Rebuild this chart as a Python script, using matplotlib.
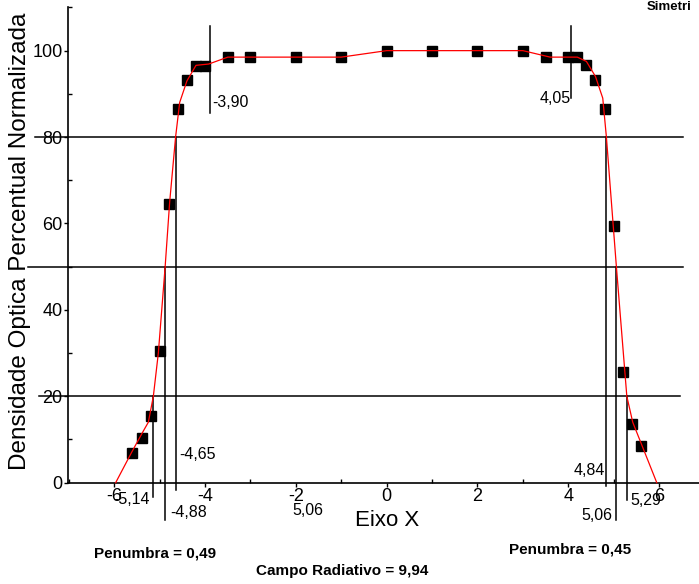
import matplotlib
matplotlib.use("Agg")
import matplotlib.pyplot as plt
from matplotlib.ticker import MultipleLocator

plt.rcParams['font.family'] = ['Liberation Sans', 'DejaVu Sans']
plt.rcParams['axes.unicode_minus'] = False

# measured points
pos_x = [-5.6, -5.4, -5.2, -5.0, -4.8, -4.6, -4.4, -4.2, -4.0, -3.5, -3.0, -2.0, -1.0,
         0.0, 1.0, 2.0, 3.0, 3.5, 4.0, 4.2, 4.4, 4.6, 4.8, 5.0, 5.2, 5.4, 5.6]
dens_y = [6.9, 10.3, 15.4, 30.5, 64.5, 86.5, 93.2, 96.5, 96.5, 98.5, 98.5, 98.5, 98.5,
          100.0, 100.0, 100.0, 100.0, 98.5, 98.5, 98.5, 96.7, 93.2, 86.5, 59.3, 25.6, 13.6, 8.6]

# fitted (red) curve
fit_x = [-5.97, -5.62, -5.38, -5.25, -5.14, -5.03, -4.88, -4.78, -4.65, -4.56, -4.40, -4.20,
         -3.92, -3.50, -1.0, 0.0, 3.0, 3.6, 4.2, 4.40, 4.60, 4.76, 4.84, 5.06, 5.29, 5.42, 5.95]
fit_y = [0, 7.0, 11.6, 14.0, 20, 30, 50, 65, 80, 88, 93, 96.6,
         96.9, 98.5, 98.5, 100, 100, 98.5, 98.5, 97.5, 94, 89, 80, 50, 20, 14, 0]

# reference levels
levels = [80, 50, 20]
level_x0 = [-7.74, -7.9, -7.65]
level_x1 = [6.53, 6.53, 6.46]

# annotation markers: x, y_top, y_bottom, label, label_x, label_y, ha
mark_x = [-3.90, -4.65, -4.88, -5.14, 4.05, 4.84, 5.06, 5.29]
mark_top = [105.6, 80, 50, 20, 105.6, 80, 50, 20]
mark_bot = [85.6, -1.8, -8.7, -3.3, 89.0, -0.7, -8.7, -3.9]
mark_lbl = ['-3,90', '-4,65', '-4,88', '-5,14', '4,05', '4,84', '5,06', '5,29']
lbl_x = [-3.84, -4.57, -4.77, -5.23, 4.06, 4.82, 4.97, 5.36]
lbl_y = [87.9, 6.5, -7.0, -3.9, 88.9, 2.8, -7.7, -4.2]
lbl_ha = ['left', 'left', 'left', 'right', 'right', 'right', 'right', 'left']

W, H = 699, 584
fig = plt.figure(figsize=(W / 100, H / 100), dpi=100)
ax = fig.add_axes([68 / W, (H - 482.7) / H, (W - 68) / W, 475.7 / H])
ax.set_xlim(-7.02, 6.88)
ax.set_ylim(0, 110.1)

for lv, a, b in zip(levels, level_x0, level_x1):
    ax.plot([a, b], [lv, lv], color='black', lw=1.1, clip_on=False, zorder=2)

for x, t, b, s, tx, ty, ha in zip(mark_x, mark_top, mark_bot, mark_lbl, lbl_x, lbl_y, lbl_ha):
    ax.plot([x, x], [b, t], color='black', lw=1.1, clip_on=False, zorder=2)
    ax.text(tx, ty, s, ha=ha, va='center', fontsize=11.5)

ax.text(-1.73, -6.4, '5,06', ha='center', va='center', fontsize=11.5)

ax.plot(pos_x, dens_y, 's', color='black', markersize=7.5, zorder=3, clip_on=False)
ax.plot(fit_x, fit_y, '-', color='red', lw=0.9, zorder=4, clip_on=False)

for sp in ['top', 'right']:
    ax.spines[sp].set_visible(False)
for sp in ['left', 'bottom']:
    ax.spines[sp].set_linewidth(1.2)

ax.xaxis.set_minor_locator(MultipleLocator(1))
ax.yaxis.set_minor_locator(MultipleLocator(10))
ax.set_xticks([-6, -4, -2, 0, 2, 4, 6])
ax.set_yticks([0, 20, 40, 60, 80, 100])
ax.tick_params(which='major', direction='out', length=3, width=1, pad=1, labelsize=13)
ax.tick_params(which='minor', direction='in', length=3, width=1)

ax.set_xlabel('Eixo X', fontsize=16, va='center')
ax.xaxis.set_label_coords((386.7 - 68) / (W - 68), -(520 - 482.7) / 475.7)
ax.set_ylabel('Densidade Optica Percentual Normalizada', fontsize=17.5, va='center')
ax.yaxis.set_label_coords(-(68 - 20) / (W - 68), (482.7 - 241) / 475.7)

fig.text(155 / W, 1 - 554 / H, 'Penumbra = 0,49', ha='center', va='center', fontsize=11, fontweight='bold')
fig.text(570 / W, 1 - 550 / H, 'Penumbra = 0,45', ha='center', va='center', fontsize=11, fontweight='bold')
fig.text(342 / W, 1 - 571 / H, 'Campo Radiativo = 9,94', ha='center', va='center', fontsize=11, fontweight='bold')
fig.text(647 / W, 1 - 7 / H, 'Simetri', ha='left', va='center', fontsize=9.5, fontweight='bold')

fig.savefig('out.png', dpi=100)
